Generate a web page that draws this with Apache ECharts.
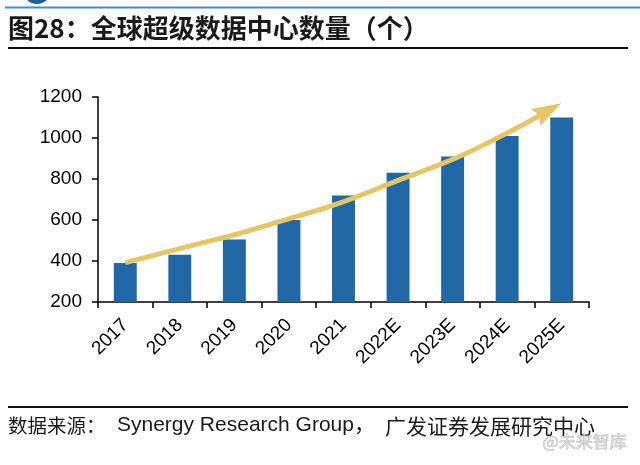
<!DOCTYPE html>
<html>
<head>
<meta charset="utf-8">
<script src="https://cdn.jsdelivr.net/npm/echarts@6/dist/echarts.min.js"></script>
<style>
html,body{margin:0;padding:0;background:#fff;}
#c{width:640px;height:465px;}
</style>
</head>
<body>
<div id="c"></div>
<script>
const categories = ['2017','2018','2019','2020','2021','2022E','2023E','2024E','2025E'];
const counts = [390, 430, 505, 600, 720, 830, 910, 1010, 1100];
const yTicks = [200, 400, 600, 800, 1000, 1200];
// trend arrow path, in (category position, value) coordinates
const trendX = [0.5, 1.7, 2.6, 3.35, 4.4, 5.5, 6.6, 7.7, 8.26];
const trendY = [392, 474, 535, 594, 680, 793, 907, 1052, 1135];
// arrow tip and the point it is aimed from
const arrowTip = [8.49, 1170];
const arrowFrom = [7.7, 1052];

const titleText = '图28：全球超级数据中心数量（个）';
const sourceLead = '数据来源：';
const sourceOrg = 'Synergy Research Group，';
const sourceTail = '广发证券发展研究中心';
const watermark = '@未来智库';

const chart = echarts.init(document.getElementById('c'), null, {renderer:'canvas'});

const trendData = trendX.map((x, i) => [x, trendY[i]]);
const gold = '#E6C563';
const sans = '"Liberation Sans", Arial, sans-serif';

function renderArrowHead(params, api) {
  const tip = api.coord([api.value(0), api.value(1)]);
  const from = api.coord([api.value(2), api.value(3)]);
  const dx = tip[0] - from[0], dy = tip[1] - from[1];
  const len = Math.sqrt(dx*dx + dy*dy) || 1;
  const ux = dx/len, uy = dy/len;       // direction
  const nx = -uy, ny = ux;              // normal
  const L = 29, W = 9.5, notch = 4;
  const bx = tip[0] - ux*L, by = tip[1] - uy*L;
  const cx = tip[0] - ux*(L-notch), cy = tip[1] - uy*(L-notch);
  return {
    type:'polygon',
    shape:{points:[tip, [bx + nx*W, by + ny*W], [cx, cy], [bx - nx*W, by - ny*W]]},
    style:{fill:gold}
  };
}

chart.setOption({
  animation:false,
  backgroundColor:'#ffffff',
  grid:{left:98, right:51, top:97, bottom:163, containLabel:false},
  xAxis:[{
    type:'category',
    data:categories,
    boundaryGap:true,
    axisLine:{show:true, lineStyle:{color:'#000', width:1.5}},
    axisTick:{show:true, inside:false, length:6, interval:0, lineStyle:{color:'#000', width:1.5}},
    axisLabel:{interval:0, rotate:45, margin:20, color:'#000', fontSize:19, fontFamily:sans},
    splitLine:{show:false}
  },{
    type:'value',
    min:0, max:9,
    show:false
  }],
  yAxis:{
    type:'value',
    min:yTicks[0], max:yTicks[yTicks.length-1], interval:200,
    axisLine:{show:true, lineStyle:{color:'#000', width:1.5}},
    axisTick:{show:true, inside:false, length:6, lineStyle:{color:'#000', width:1.5}},
    axisLabel:{margin:16, color:'#000', fontSize:19, fontFamily:sans, formatter:(v)=>String(v)},
    splitLine:{show:false}
  },
  series:[{
    type:'bar',
    data:counts,
    barWidth:'42%',
    itemStyle:{color:'#1F67A5'},
    z:2
  },{
    type:'line',
    xAxisIndex:1,
    data:trendData,
    smooth:0.35,
    symbol:'none',
    lineStyle:{color:gold, width:5},
    z:5,
    silent:true
  },{
    type:'custom',
    xAxisIndex:1,
    data:[[arrowTip[0], arrowTip[1], arrowFrom[0], arrowFrom[1]]],
    renderItem:renderArrowHead,
    z:6,
    silent:true
  }],
  graphic:[
    {type:'circle', shape:{cx:37, cy:-10, r:14}, style:{fill:'#1F5FA0'}},
    {type:'text', left:84, top:-13, style:{text:'GF SECURITIES', fill:'#1F4E86', font:'bold 16px ' + sans}},
    {type:'rect', shape:{x:5, y:6.5, width:635, height:2}, style:{fill:'#3B8FD1'}},
    {type:'text', left:8, top:15, style:{text:titleText, fill:'#1a1a1a', font:'bold 26px "Noto Sans CJK SC", sans-serif'}},
    {type:'rect', shape:{x:8, y:47, width:620, height:2}, style:{fill:'#111'}},
    {type:'rect', shape:{x:8, y:406, width:620, height:2}, style:{fill:'#111'}},
    {type:'text', left:8, top:416, style:{text:sourceLead, fill:'#1a1a1a', font:'19.5px "Noto Sans CJK SC", sans-serif'}},
    {type:'text', left:117, top:415, style:{text:sourceOrg, fill:'#1a1a1a', font:'21px "Liberation Sans", "Noto Sans CJK SC", sans-serif'}},
    {type:'text', left:385, top:416, style:{text:sourceTail, fill:'#1a1a1a', font:'21px "Noto Sans CJK SC", sans-serif'}},
    {type:'text', right:13, top:433, style:{text:watermark, fill:'rgba(215,215,215,0.95)', stroke:'rgba(150,150,150,0.7)', lineWidth:0.6, font:'17px "Noto Sans CJK SC", sans-serif'}}
  ]
});
</script>
</body>
</html>
